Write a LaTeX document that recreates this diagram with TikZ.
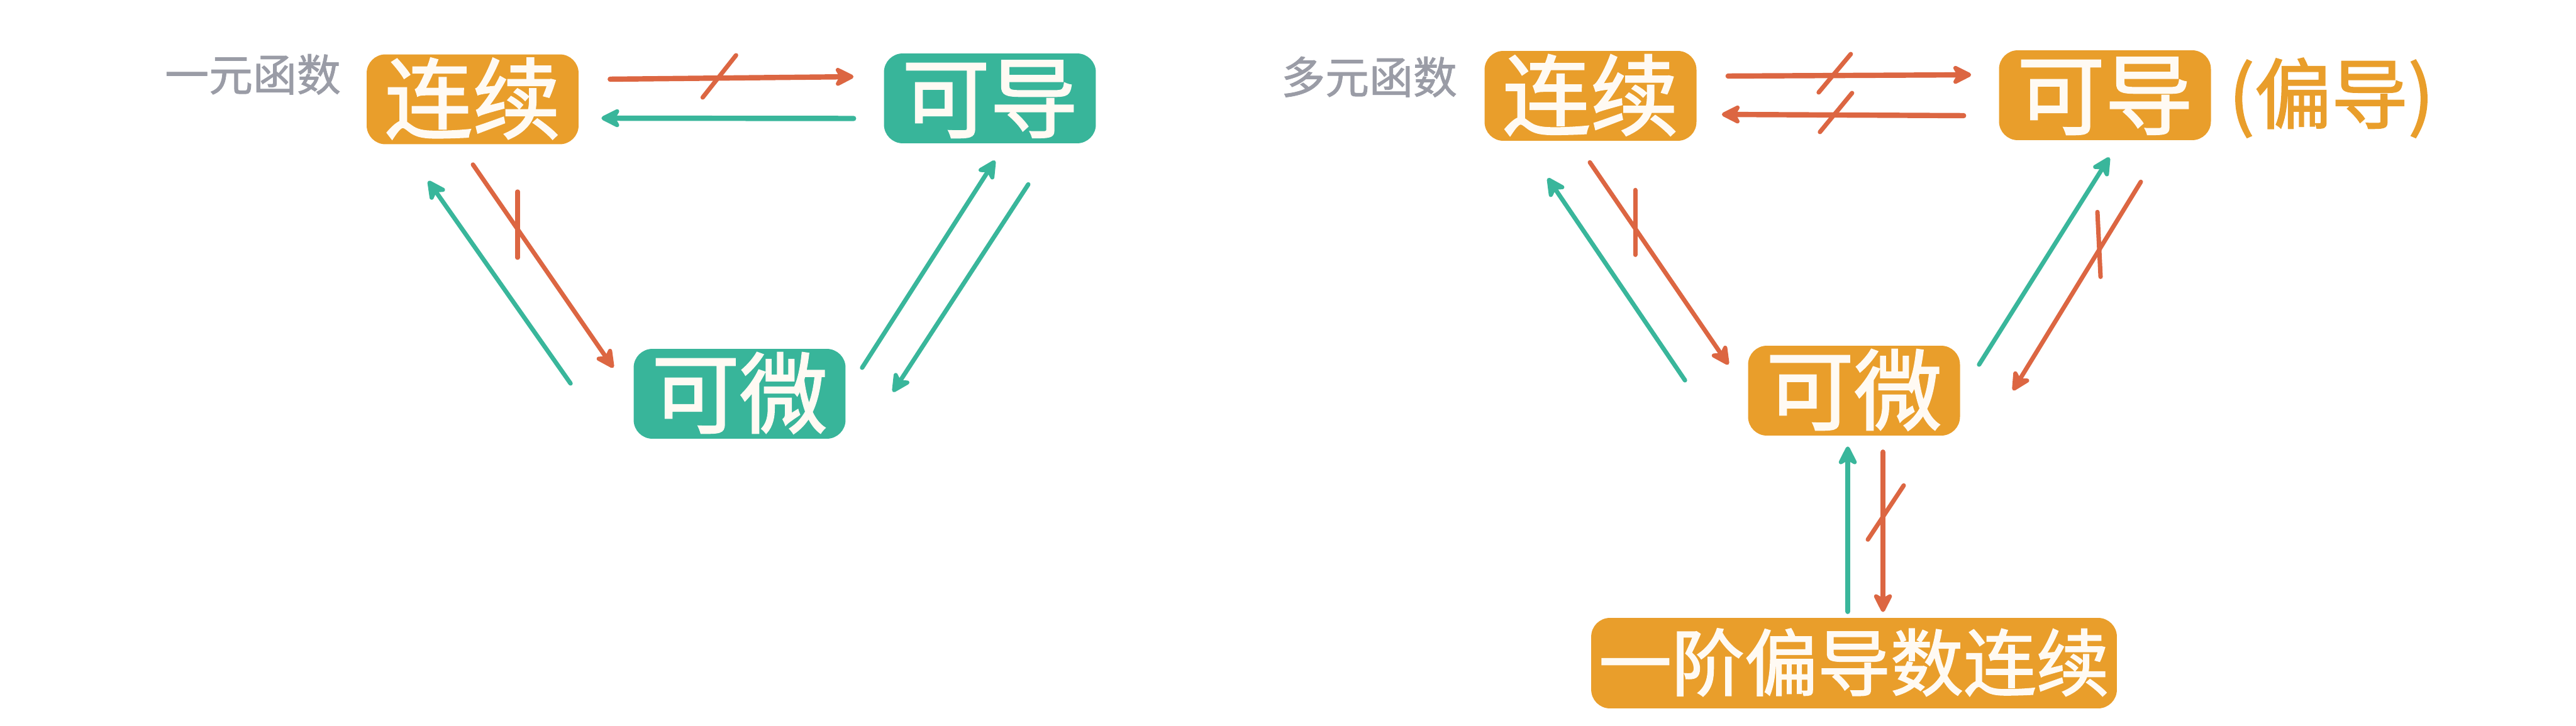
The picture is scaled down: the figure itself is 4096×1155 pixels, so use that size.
\documentclass[tikz,border=0pt]{standalone}
\usepackage{fontspec}
\newfontfamily\cjk{Noto Sans CJK SC}[FakeBold=1.6]
\newfontfamily\cjkl{Noto Sans CJK SC}[FakeBold=1.2]
\usetikzlibrary{arrows.meta,calc}
\definecolor{boxO}{HTML}{E99E2B}
\definecolor{boxT}{HTML}{38B59A}
\definecolor{arrO}{HTML}{DC6642}
\definecolor{arrT}{HTML}{39B69B}
\definecolor{grayT}{HTML}{9A9CA6}
\definecolor{txtW}{HTML}{FFFAF3}
\tikzset{
  box/.style={rounded corners=17pt, inner sep=0pt, minimum width=6.74cm, minimum height=2.86cm,
    text=txtW, font=\cjk\fontsize{79.7pt}{80pt}\selectfont, text height=63.8pt, text depth=4.8pt},
  obox/.style={box, fill=boxO},
  tbox/.style={box, fill=boxT},
  lbl/.style={inner sep=0pt, text=grayT, font=\cjkl\fontsize{39.8pt}{40pt}\selectfont, text height=31.8pt, text depth=2.4pt},
  tip/.style={-{Stealth[length=21pt,width=21pt,inset=6pt,round]}},
  thick arr/.style={line width=4.8pt, line cap=round, tip},
  thin arr/.style={line width=4pt, line cap=round, tip},
  oh/.style={thick arr, draw=arrO},
  th/.style={thick arr, draw=arrT},
  od/.style={thin arr, draw=arrO},
  td/.style={thin arr, draw=arrT},
  slash/.style={draw=arrO, line width=4pt, line cap=round},
}
\begin{document}
\begin{tikzpicture}[x=0.02cm, y=-0.02cm]
\useasboundingbox (0,0) rectangle (4096,1155);
% ---------- left: 一元函数 ----------
\node[lbl] (l1) at (402,119) {一元函数};
\node[obox] (lc) at (751.5,158) {连续};
\node[tbox] (ld) at (1574,156.5) {可导};
\node[tbox] (lw) at (1176,626.5) {可微};

\draw[oh] ($(lc.east)+(50,-32)$) -- ($(ld.west)+(-48,-34.5)$);
\draw[slash] ($(lc.east)+(197,-3)$) -- ($(lc.east)+(250,-70)$);
\draw[th] ($(ld.west)+(-48,32)$) -- ($(lc.east)+(36,30)$);

\draw[od] ($(lc.south)+(0.5,32)$) -- ($(lw.west)+(-32,-41.5)$);
\draw[slash] ($(lc.south)+(71.5,75)$) -- ($(lc.south)+(71.5,180)$);
\draw[td] ($(lw.west)+(-100,-16.5)$) -- ($(lc.south)+(-70.5,58)$);

\draw[td] ($(lw.east)+(26,-41.5)$) -- ($(ld.south)+(8,27)$);
\draw[td] ($(ld.south)+(61,65)$) -- ($(lw.east)+(75,-3)$);

% ---------- right: 多元函数 ----------
\node[lbl] (r1) at (2177,123) {多元函数};
\node[obox] (rc) at (2529,152.5) {连续};
\node[obox] (rd) at (3347,151.5) {可导};
\node[inner sep=0pt, text=boxO, font=\cjk\fontsize{69.4pt}{70pt}\selectfont, text height=55.5pt, text depth=4.2pt] (rp) at (3707,150) {(偏导)};
\node[obox] (rw) at (2948,621.5) {可微};
\node[obox, minimum width=16.72cm, minimum height=2.88cm, font=\cjk\fontsize{66pt}{66pt}\selectfont, text height=52.8pt, text depth=4pt] (rf) at (2948,1055) {一阶偏导数连续};

\draw[oh] ($(rc.east)+(50,-31.5)$) -- ($(rd.west)+(-44,-32.5)$);
\draw[slash] ($(rc.east)+(194,-5.5)$) -- ($(rc.east)+(245,-66.5)$);
\draw[oh] ($(rd.west)+(-56,32.5)$) -- ($(rc.east)+(40,29.5)$);
\draw[slash] ($(rc.east)+(196,57.5)$) -- ($(rc.east)+(247,-4.5)$);

\draw[od] ($(rc.south)+(-1,34)$) -- ($(rw.west)+(-31,-41.5)$);
\draw[slash] ($(rc.south)+(71,78)$) -- ($(rc.south)+(71,181)$);
\draw[td] ($(rw.west)+(-100,-16.5)$) -- ($(rc.south)+(-68,59)$);

\draw[td] ($(rw.east)+(30,-41.5)$) -- ($(rd.south)+(7,27)$);
\draw[od] ($(rd.south)+(57,66)$) -- ($(rw.east)+(84,-0.5)$);
\draw[slash] ($(rd.south)+(-12,114)$) -- ($(rd.south)+(-7,217)$);

\draw[th] ($(rf.north)+(-10,-10)$) -- ($(rw.south)+(-10,17)$);
\draw[oh] ($(rw.south)+(46,26)$) -- ($(rf.north)+(46,-9)$);
\draw[slash] ($(rw.south)+(79,79)$) -- ($(rw.south)+(22,165)$);
\end{tikzpicture}
\end{document}
